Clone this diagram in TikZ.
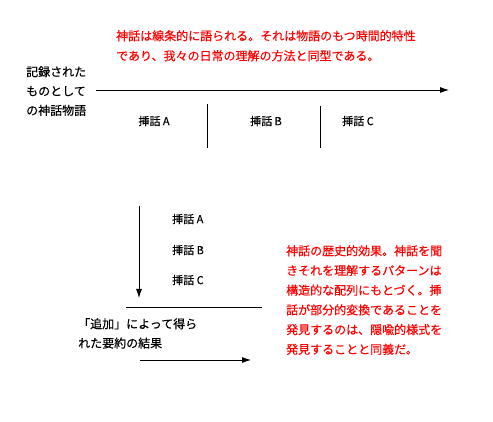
\documentclass[tikz,border=0pt]{standalone}
\usepackage{fontspec}
\setmainfont[FakeBold=0.4]{Noto Sans CJK JP}
\usetikzlibrary{positioning, arrows.meta}

\begin{document}
\begin{tikzpicture}[
	x=1pt, y=-1pt,
	% Text styles
	redNote/.style={text=red, align=left, anchor=north west, inner sep=0pt, font=\fontsize{12}{20}\selectfont},
	blackNote/.style={align=left, anchor=north west, inner sep=0pt, font=\fontsize{12}{19.3}\selectfont},
	episode/.style={inner sep=0pt, font=\fontsize{11}{13}\selectfont},
	% Line styles
	timeArrow/.style={line width=0.8pt, -{Latex[length=9pt, width=6pt]}},
	divider/.style={line width=0.8pt}
	]
	
	\useasboundingbox (0,0) rectangle (493,422);
	
	% ==============================================================================
	% UPPER PART: LINEAR NARRATIVE
	% ==============================================================================
	\node[redNote] (lineNote) at (116,30) {神話は線条的に語られる。それは物語のもつ時間的特性\\であり、我々の日常の理解の方法と同型である。};
	\node[blackNote] (recorded) at (26,66) {記録された\\ものとして\\の神話物語};
	
	\coordinate (timeS) at (96,90);
	\coordinate (timeE) at (449,90);
	\draw[timeArrow] (timeS) -- (timeE);
	
	\coordinate (div1T) at (207,104);
	\coordinate (div1B) at (207,148);
	\coordinate (div2T) at (320,106);
	\coordinate (div2B) at (320,148);
	\draw[divider] (div1T) -- (div1B);
	\draw[divider] (div2T) -- (div2B);
	
	\node[episode] (epA) at (154,121) {挿話 A};
	\node[episode] (epB) at (266,121) {挿話 B};
	\node[episode] (epC) at (358,121) {挿話 C};
	
	% ==============================================================================
	% LOWER PART: STRUCTURAL ARRANGEMENT
	% ==============================================================================
	\coordinate (downS) at (139,206);
	\coordinate (downE) at (139,298);
	\draw[timeArrow] (downS) -- (downE);
	
	\node[episode, anchor=west] (vA) at (172,219) {挿話 A};
	\node[episode, anchor=west] (vB) at (172,250) {挿話 B};
	\node[episode, anchor=west] (vC) at (172,280) {挿話 C};
	
	\coordinate (sumL) at (126,307);
	\coordinate (sumR) at (262,307);
	\draw[divider] (sumL) -- (sumR);
	
	\node[blackNote] (summary) at (78,318) {「追加」によって得ら\\れた要約の結果};
	
	\coordinate (resS) at (140,360);
	\coordinate (resE) at (251,360);
	\draw[timeArrow] (resS) -- (resE);
	
	\node[redNote, font=\fontsize{12}{19.7}\selectfont] (historyNote) at (286,245) {神話の歴史的効果。神話を聞\\きそれを理解するパターンは\\構造的な配列にもとづく。挿\\話が部分的変換であることを\\発見するのは、隠喩的様式を\\発見することと同義だ。};
	
\end{tikzpicture}
\end{document}
